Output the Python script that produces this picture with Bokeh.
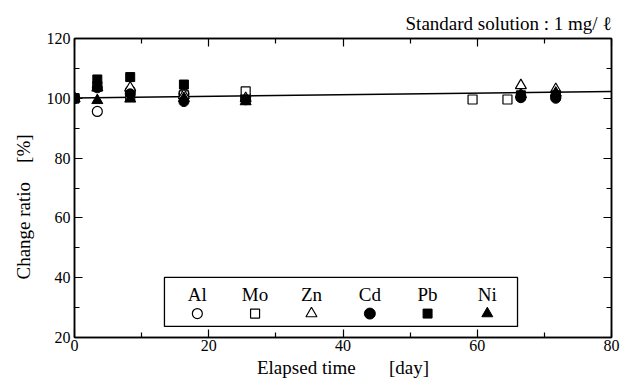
from bokeh.plotting import figure
from bokeh.models import FixedTicker, LinearAxis, Range1d, Title, Label
from bokeh.embed import file_html
from bokeh.resources import INLINE

FONT = "Liberation Serif"

# ---- data ----
al_x = [0, 3.4, 8.3, 16.3, 25.5, 66.5, 71.7]
al_y = [100, 95.6, 102.5, 101.5, 100.5, 100.5, 100.5]
mo_x = [0, 3.4, 8.3, 16.3, 25.5, 59.3, 64.5]
mo_y = [100, 104.0, 100.5, 101.0, 102.3, 99.6, 99.6]
zn_x = [0, 3.4, 8.3, 16.3, 25.5, 66.5, 71.7]
zn_y = [100, 103.5, 103.5, 101.0, 100.0, 104.3, 103.0]
cd_x = [0, 3.4, 8.3, 16.3, 25.5, 66.5, 71.7]
cd_y = [100, 103.5, 101.5, 98.9, 99.5, 100.2, 100.0]
pb_x = [0, 3.4, 8.3, 16.3, 25.5, 66.5, 71.7]
pb_y = [100, 106.3, 107.1, 104.6, 99.6, 101.0, 101.0]
ni_x = [0, 3.4, 8.3, 16.3, 25.5, 66.5, 71.7]
ni_y = [100, 99.3, 99.8, 100.0, 98.9, 101.3, 101.8]
fit_x = [0, 80]
fit_y = [100.1, 102.3]

x_ticks = [0, 20, 40, 60, 80]
x_minor = [10, 30, 50, 70]
y_ticks = [20, 40, 60, 80, 100, 120]
y_minor = [30, 50, 70, 90, 110]

legend_names = ["Al", "Mo", "Zn", "Cd", "Pb", "Ni"]

NB = "\u00a0"

p = figure(width=620, height=387, output_backend="svg", toolbar_location=None,
           x_range=Range1d(0, 80), y_range=Range1d(20, 120),
           min_border_left=74, min_border_right=9, min_border_top=38, min_border_bottom=50)
p.background_fill_color = "white"
p.border_fill_color = "white"
p.outline_line_color = "black"
p.outline_line_width = 1.5
p.grid.visible = False

def style_axis(ax, ticks, minor, labels=True):
    ax.ticker = FixedTicker(ticks=ticks, minor_ticks=minor)
    ax.major_tick_in = 8
    ax.major_tick_out = 0
    ax.minor_tick_in = 5
    ax.minor_tick_out = 0
    ax.axis_line_color = "black"
    ax.axis_line_width = 1.5
    ax.major_tick_line_width = 1.2
    ax.minor_tick_line_width = 1.2
    ax.major_label_text_font = FONT
    ax.major_label_text_font_size = "16px"
    ax.major_label_text_color = "black"
    ax.axis_label_text_font = FONT
    ax.axis_label_text_font_size = "19px"
    ax.axis_label_text_font_style = "normal"
    ax.axis_label_text_color = "black"
    if not labels:
        ax.major_label_overrides = {t: "" for t in ticks}
        ax.major_label_standoff = 0

xa = p.xaxis[0]
style_axis(xa, x_ticks, x_minor)
xa.axis_label = "Elapsed time" + NB * 7 + "[day]"
xa.major_label_standoff = 2
xa.axis_label_standoff = 3

ya = p.yaxis[0]
style_axis(ya, y_ticks, y_minor)
ya.axis_label = "Change ratio" + NB * 4 + "[%]" + NB * 8
ya.major_label_standoff = 4
ya.axis_label_standoff = 10

top = LinearAxis()
style_axis(top, x_ticks, x_minor, labels=False)
p.add_layout(top, "above")
right = LinearAxis()
style_axis(right, y_ticks, y_minor, labels=False)
p.add_layout(right, "right")

p.add_layout(Title(text="Standard solution : 1 mg/ \u2113", align="right",
                   text_font=FONT, text_font_size="19px", text_font_style="normal",
                   text_color="black"), "above")

# reference line
p.line(fit_x, fit_y, line_color="black", line_width=1.5)

S = 10
p.scatter(al_x, al_y, marker="circle", size=S, fill_color="white", line_color="black", line_width=1.2)
p.scatter(mo_x, mo_y, marker="square", size=S - 1, fill_color="white", line_color="black", line_width=1.2)
p.scatter(zn_x, zn_y, marker="triangle", size=S + 1, fill_color="white", line_color="black", line_width=1.2)
p.scatter(cd_x, cd_y, marker="circle", size=S, fill_color="black", line_color="black")
p.scatter(pb_x, pb_y, marker="square", size=S - 1, fill_color="black", line_color="black")
p.scatter(ni_x, ni_y, marker="triangle", size=S + 1, fill_color="black", line_color="black")

# ---- custom legend box (labels above markers) ----
leg_left, leg_right, leg_top, leg_bottom = 13.4, 66.0, 40.1, 23.7
p.quad(left=[leg_left], right=[leg_right], top=[leg_top], bottom=[leg_bottom],
       fill_color="white", line_color="black", line_width=1.3)
leg_xs = [18.3, 26.9, 35.3, 44.0, 52.6, 61.5]
leg_text_y = 31.0
leg_mark_y = 28.0
for name, lx in zip(legend_names, leg_xs):
    p.add_layout(Label(x=lx, y=leg_text_y, text=name, text_align="center",
                       text_baseline="bottom", text_font=FONT, text_font_size="19px",
                       text_color="black"))
p.scatter([leg_xs[0]], [leg_mark_y], marker="circle", size=S, fill_color="white", line_color="black", line_width=1.2)
p.scatter([leg_xs[1]], [leg_mark_y], marker="square", size=S - 1, fill_color="white", line_color="black", line_width=1.2)
p.scatter([leg_xs[2]], [leg_mark_y], marker="triangle", size=S + 1, fill_color="white", line_color="black", line_width=1.2)
p.scatter([leg_xs[3]], [leg_mark_y], marker="circle", size=S + 1, fill_color="black", line_color="black")
p.scatter([leg_xs[4]], [leg_mark_y], marker="square", size=S - 1, fill_color="black", line_color="black")
p.scatter([leg_xs[5]], [leg_mark_y], marker="triangle", size=S + 1, fill_color="black", line_color="black")

open("out.html", "w").write(file_html(p, INLINE))
